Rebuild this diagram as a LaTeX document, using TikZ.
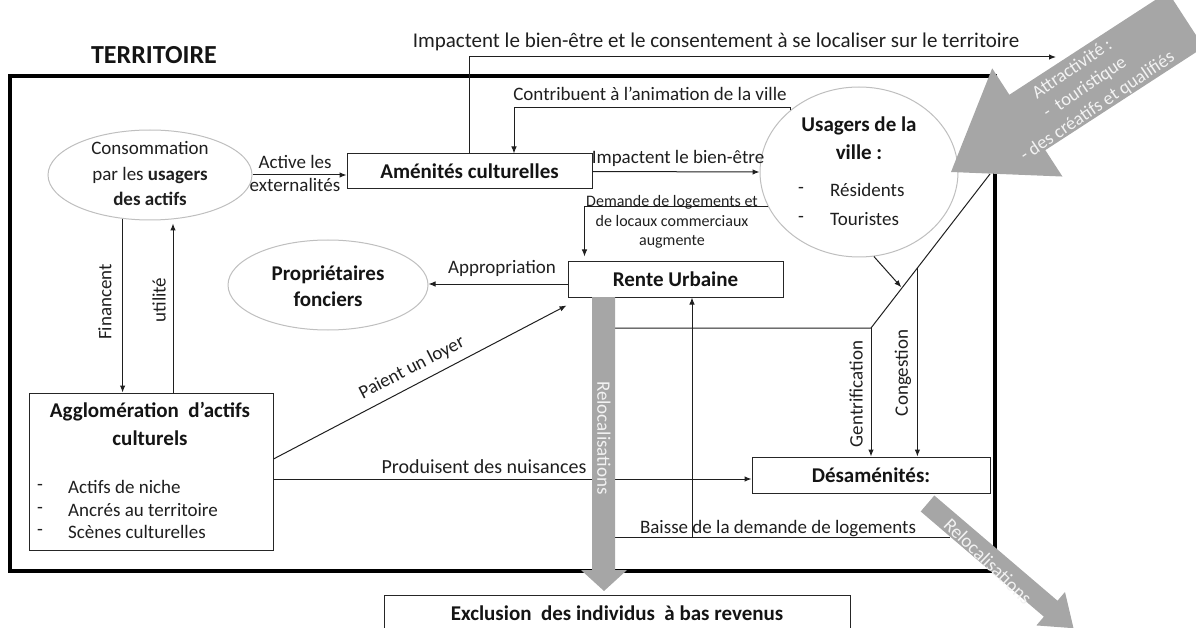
\documentclass[tikz,border=0pt]{standalone}
\usepackage{fontspec}
\setmainfont{Carlito}
\usetikzlibrary{shapes.geometric,arrows.meta,calc}
\begin{document}
\begin{tikzpicture}[x=1pt,y=-1pt,
  txt/.style={font=\fontsize{19}{23}\selectfont, text=black!88, inner sep=0pt},
  small/.style={font=\fontsize{16}{19.5}\selectfont, text=black!88, inner sep=0pt},
  bold/.style={font=\fontsize{21}{26}\selectfont\bfseries, text=black!92, inner sep=0pt},
  bx/.style={draw=black!85, line width=1pt, fill=white, inner sep=0pt},
  ell/.style={ellipse, draw=black!25, line width=1pt, fill=white, inner sep=0pt},
  arr/.style={-{Latex[length=7pt,width=5.5pt]}, line width=1pt, draw=black!88},
  ln/.style={line width=1pt, draw=black!88},
  gr/.style={fill=black!35, draw=none},
  wt/.style={text=white!95!black, inner sep=0pt}]
\useasboundingbox (0,0) rectangle (1196,628);
\begin{scope}
\clip (0,0) rectangle (1196,628);

% frame and title
\node[draw=black, line width=3.6pt, minimum width=985pt, minimum height=495pt, inner sep=0pt] (terr) at (502.5,323.5) {};
\node[font=\fontsize{26}{30}\selectfont\bfseries, text=black!92, inner sep=0pt] (terrlabel) at (154,55) {TERRITOIRE};

% boxes
\node[bx, bold, minimum width=245pt, minimum height=35pt] (amen) at (469.5,171.5) {Aménités culturelles};
\node[bx, bold, minimum width=215pt, minimum height=35pt] (rente) at (675.5,279.5) {Rente Urbaine};
\node[bx, bold, minimum width=238pt, minimum height=36pt] (desa) at (871,475) {Désaménités:};
\node[bx, minimum width=244pt, minimum height=157pt] (agg) at (151,471.5) {};
\node[bx, minimum width=466pt, minimum height=50pt] (excl) at (617,620) {};
\node[bold] (excltxt) at (617,613) {Exclusion\ \ des individus\ \ à bas revenus};

% ellipses
\node[ell, minimum width=204pt, minimum height=90pt] (cons) at (150,175) {};
\node[ell, minimum width=200pt, minimum height=90pt] (prop) at (328,285) {};
\node[ell, minimum width=198pt, minimum height=170pt] (usa) at (859,172) {};

% texts in ellipses / boxes
\node[txt, align=center, font=\fontsize{19}{25.5}\selectfont] (constxt) at (150,174) {Consommation\\par les \textbf{usagers}\\\textbf{des actifs}};
\node[bold, align=center] (proptxt) at (328,286) {Propriétaires\\fonciers};
\node[bold] (u1) at (859,126) {Usagers de la};
\node[bold] (u2) at (859,152) {ville :};
\node[txt] (ud1) at (801,190) {-};
\node[txt, anchor=west] (ur) at (830,190) {Résidents};
\node[txt] (ud2) at (801,219) {-};
\node[txt, anchor=west] (ut) at (830,219) {Touristes};
\node[bold] (ag1) at (150,412) {Agglomération\ \ d’actifs};
\node[bold] (ag2) at (150,438) {culturels};
\node[txt] (agd1) at (40,487) {-};
\node[txt, anchor=west] (agi1) at (68,487) {Actifs de niche};
\node[txt] (agd2) at (40,510) {-};
\node[txt, anchor=west] (agi2) at (68,510) {Ancrés au territoire};
\node[txt] (agd3) at (40,532) {-};
\node[txt, anchor=west] (agi3) at (68,532) {Scènes culturelles};

% connectors
\coordinate (impEnd) at (1056,57);
\draw[arr] (cons.east) -- (cons.east -| amen.west);
\node[txt] (act1) at (295,162) {Active les};
\node[txt] (act2) at (295,185) {externalités};

\draw[arr] (amen.north) |- (impEnd);
\node[txt, font=\fontsize{21}{25}\selectfont] (implab) at (716,42) {Impactent le bien-être et le consentement à se localiser sur le territoire};

\draw[arr] (usa.138.5) -- ++(0,-3) -| ([xshift=44.5pt]amen.north);
\node[txt] (contlab) at (650,94) {Contribuent à l’animation de la ville};

\draw[arr] (amen.east) -- (usa.west);
\node[txt] (imp2) at (678,158) {Impactent le bien-être};

\draw[arr] (usa.201.8) -| ([xshift=17pt,yshift=5pt]rente.north west);
\node[small, align=center] (dem) at (672,222) {Demande de logements et\\de locaux commerciaux\\augmente};

\draw[arr] ([yshift=-4.5pt]rente.west) -- ([yshift=-4.5pt]rente.west -| prop.east);
\node[txt] (applab) at (502,268) {Appropriation};

\draw[arr] (cons.238.1) -- (cons.238.1 |- agg.north);
\node[txt, rotate=90] (finlab) at (105,302) {Financent};
\draw[arr] ([xshift=22pt]agg.north) -- ([xshift=23pt,yshift=-3pt]cons.south);
\node[txt, rotate=90] (utlab) at (159,300) {utilité};

\draw[arr] ([yshift=12.5pt]agg.east) -- ([xshift=-1pt,yshift=-8pt]rente.south west);
\node[txt, rotate=27.3] (paylab) at (412,368) {Paient un loyer};

\draw[arr] ([yshift=-7.5pt]agg.east) -- ([yshift=-7.5pt]agg.east -| desa.west);
\node[txt, font=\fontsize{20}{24}\selectfont] (prodlab) at (484,467) {Produisent des nuisances};

\coordinate (dtop) at (990,174);
\coordinate (kink) at (871,328);
\coordinate (hl) at (612,328);
\draw[ln] (dtop) -- (kink) -- (hl);
\draw[arr] (kink) -- (kink |- desa.north);
\node[txt, rotate=90] (gentlab) at (856,394) {Gentrification};
\coordinate (cg) at ($(dtop)!0.61!(kink)$);
\draw[arr] (cg) -- (cg |- desa.north);
\node[txt, rotate=90] (conglab) at (903,373) {Congestion};
\draw[arr, shorten >=1pt] (usa.-80) -- ($(dtop)!0.74!(kink)$);

\coordinate (bR) at (950,537);
\coordinate (bL) at (612,537);
\coordinate (bx) at (692,537);
\draw[ln] (bR) -- (bL);
\draw[arr] (bx) -- (bx |- rente.south);
\node[txt, anchor=base] (baislab) at (778,533) {Baisse de la demande de logements};

% gray arrows
\path[gr] (592,297) -- (615,297) -- (615,570) -- (627,570) -- (604,591) -- (581,570) -- (592,570) -- cycle;
\node[txt, wt, rotate=-90] (reloc1) at (604,438) {Relocalisations};

\begin{scope}[shift={(927.5,503.5)}, rotate=-40.5]
  \path[gr] (0,-10.5) -- (162,-10.5) -- (162,-22) -- (192,0) -- (162,22) -- (162,10.5) -- (0,10.5) -- cycle;
\end{scope}
\node[txt, wt, rotate=-44] (reloc2) at (988,561) {Relocalisations};

\begin{scope}[shift={(951,172)}, rotate=33]
  \path[gr] (0,0) -- (91,64.5) -- (91,33) -- (280,33) -- (280,-33) -- (91,-33) -- (91,-64.5) -- cycle;
\end{scope}
\node[wt, font=\fontsize{18.5}{22.5}\selectfont, align=center, rotate=34] (attr) at (1085,88) {Attractivité :\\-\ \ touristique\\- des créatifs et qualifiés};

\end{scope}
\end{tikzpicture}
\end{document}
